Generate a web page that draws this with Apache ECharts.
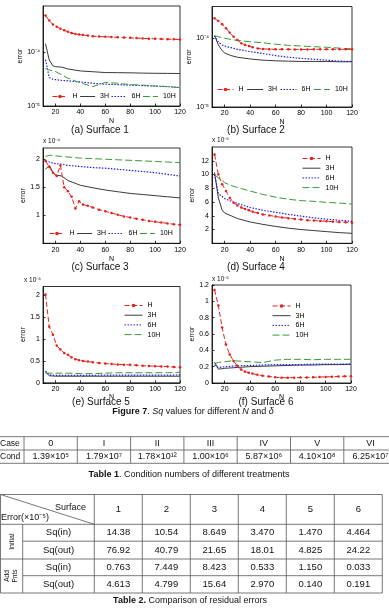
<!DOCTYPE html>
<html><head><meta charset="utf-8">
<script src="https://cdn.jsdelivr.net/npm/echarts@6/dist/echarts.min.js"></script>
<style>html,body{margin:0;padding:0;background:#fff}#c{width:389px;height:612px}</style>
</head><body><div id="c"></div>
<script>
// ---------- data ----------
const N_H = [12,15,18,21,24,27,30,33,36,39,42,46,50,55,60,65,70,75,80,85,90,95,100,105,110,115,120];
const N_S = [12,15,18,20,25,30,40,50,60,70,80,90,100,110,120];
const N_TICKS = [20,40,60,80,100,120];
const NAMES = ['H','3H','6H','10H'];

// Surface 1 (absolute values, log axis)
const s1_H   = [4.84e-4,3.9e-4,3.3e-4,3.0e-4,2.75e-4,2.57e-4,2.42e-4,2.28e-4,2.2e-4,2.15e-4,2.1e-4,2.05e-4,2.0e-4,1.97e-4,1.95e-4,1.93e-4,1.9e-4,1.88e-4,1.86e-4,1.84e-4,1.82e-4,1.8e-4,1.79e-4,1.77e-4,1.76e-4,1.75e-4,1.73e-4];
const s1_3H  = [1.45e-4,7.2e-5,5.6e-5,5.4e-5,5.3e-5,4.9e-5,4.5e-5,4.35e-5,4.2e-5,4.18e-5,4.15e-5,4.1e-5,4.07e-5,4.05e-5,4.03e-5];
const s1_6H  = [7.3e-5,3.4e-5,3.15e-5,3.1e-5,3.0e-5,2.95e-5,2.8e-5,2.65e-5,2.55e-5,2.5e-5,2.45e-5,2.4e-5,2.35e-5,2.3e-5,2.2e-5];
const s1_10H = [5.0e-5,4.7e-5,4.5e-5,4.4e-5,3.8e-5,3.3e-5,2.7e-5,2.3e-5,2.75e-5,2.65e-5,2.5e-5,2.45e-5,2.35e-5,2.3e-5,2.2e-5];
// Surface 2 (absolute values, log axis)
const s2_H   = [1.95e-4,1.78e-4,1.6e-4,1.4e-4,1.2e-4,1.05e-4,9.4e-5,8.5e-5,8.0e-5,7.7e-5,7.4e-5,7.1e-5,7.0e-5,6.95e-5,6.9e-5,6.9e-5,6.9e-5,6.88e-5,6.88e-5,6.88e-5,6.9e-5,6.9e-5,6.9e-5,6.9e-5,6.92e-5,6.9e-5,6.9e-5];
const s2_3H  = [1.09e-4,8.0e-5,6.6e-5,6.1e-5,5.6e-5,5.3e-5,5.0e-5,4.8e-5,4.7e-5,4.65e-5,4.6e-5,4.6e-5,4.6e-5,4.55e-5,4.55e-5];
const s2_6H  = [1.09e-4,8.8e-5,8.0e-5,7.7e-5,7.3e-5,6.9e-5,6.4e-5,6.0e-5,5.6e-5,5.3e-5,5.1e-5,4.95e-5,4.8e-5,4.65e-5,4.6e-5];
const s2_10H = [1.09e-4,1.05e-4,1.02e-4,1.0e-4,9.6e-5,9.3e-5,8.9e-5,8.6e-5,8.2e-5,7.9e-5,7.7e-5,7.55e-5,7.4e-5,7.2e-5,7.0e-5];
// Surface 3 (x 10^-4)
const s3_H   = [1.97,1.86,1.76,1.70,1.89,1.50,1.43,1.33,1.12,1.25,1.19,1.17,1.14,1.10,1.07,1.04,1.01,0.98,0.96,0.94,0.92,0.90,0.885,0.87,0.855,0.84,0.83];
const s3_3H  = [1.82,1.89,1.77,1.72,1.70,1.62,1.535,1.49,1.45,1.42,1.39,1.37,1.35,1.33,1.31];
const s3_6H  = [1.97,1.95,1.93,1.92,1.91,1.89,1.87,1.85,1.84,1.82,1.80,1.78,1.76,1.73,1.70];
const s3_10H = [2.05,2.07,2.07,2.06,2.05,2.04,2.02,2.01,2.0,1.99,1.98,1.97,1.96,1.95,1.94];
// Surface 4 (x 10^-5)
const s4_H   = [12.9,10.0,8.6,7.6,6.6,5.9,5.5,5.2,5.0,4.8,4.6,4.4,4.2,4.05,3.9,3.75,3.65,3.55,3.45,3.35,3.3,3.25,3.2,3.15,3.1,3.05,3.0];
const s4_3H  = [10.3,6.6,4.8,4.4,4.0,3.6,3.1,2.75,2.45,2.2,2.0,1.85,1.7,1.55,1.45];
const s4_6H  = [10.0,7.2,6.8,6.5,6.1,5.8,5.2,4.8,4.5,4.2,3.95,3.7,3.5,3.35,3.2];
const s4_10H = [10.0,9.5,9.1,8.8,8.4,8.1,7.6,7.1,6.7,6.4,6.2,6.1,5.95,5.85,5.7];
// Surface 5 (x 10^-5)
const s5_H   = [2.02,1.28,1.10,0.85,0.76,0.68,0.64,0.58,0.54,0.515,0.50,0.485,0.47,0.45,0.44,0.43,0.42,0.415,0.41,0.40,0.39,0.385,0.38,0.375,0.37,0.36,0.355];
const s5_3H  = [0.25,0.16,0.155,0.15,0.15,0.15,0.15,0.15,0.15,0.15,0.15,0.15,0.15,0.15,0.15];
const s5_6H  = [0.27,0.18,0.175,0.17,0.17,0.17,0.17,0.17,0.175,0.175,0.175,0.175,0.175,0.175,0.18];
const s5_10H = [0.22,0.22,0.22,0.22,0.22,0.22,0.21,0.21,0.22,0.23,0.23,0.23,0.23,0.23,0.24];
// Surface 6 (x 10^-5)
const s6_H   = [1.14,0.95,0.68,0.47,0.35,0.27,0.21,0.165,0.14,0.125,0.115,0.10,0.09,0.08,0.07,0.065,0.065,0.065,0.067,0.068,0.07,0.072,0.075,0.077,0.08,0.082,0.083];
const s6_3H  = [0.255,0.17,0.175,0.18,0.185,0.19,0.20,0.205,0.21,0.215,0.22,0.22,0.225,0.225,0.23];
const s6_6H  = [0.22,0.19,0.195,0.20,0.205,0.21,0.215,0.22,0.225,0.225,0.225,0.23,0.23,0.23,0.23];
const s6_10H = [0.24,0.25,0.26,0.26,0.27,0.27,0.26,0.25,0.28,0.29,0.29,0.285,0.29,0.29,0.29];

const SUBTITLES = ['(a) Surface 1','(b) Surface 2','(c) Surface 3','(d) Surface 4','(e) Surface 5','(f) Surface 6'];
const EXPONENTS = [null, null, -4, -5, -5, -5];

// Table 1
const t1Cases = ['0','I','II','III','IV','V','VI'];
const t1Mant  = ['1.39','1.79','1.78','1.00','5.87','4.10','6.25'];
const t1Exp   = [5,7,12,6,6,8,7];
// Table 2
const t2Surfaces = ['1','2','3','4','5','6'];
const t2RowLabels = ['Sq(in)','Sq(out)','Sq(in)','Sq(out)'];
const t2Groups = ['Initial','Add\nPnts'];
const t2InitIn  = ['14.38','10.54','8.649','3.470','1.470','4.464'];
const t2InitOut = ['76.92','40.79','21.65','18.01','4.825','24.22'];
const t2AddIn   = ['0.763','7.449','8.423','0.533','1.150','0.033'];
const t2AddOut  = ['4.613','4.799','15.64','2.970','0.140','0.191'];

// ---------- helpers ----------
const SUP = {'-':'\u207B','0':'\u2070','1':'\u00B9','2':'\u00B2','3':'\u00B3','4':'\u2074','5':'\u2075','6':'\u2076','7':'\u2077','8':'\u2078','9':'\u2079'};
const sup = v => String(v).split('').map(c => SUP[c] || c).join('');
const FF = '"Liberation Sans", Arial, sans-serif';

const SERIES_DATA = [
  [s1_H, s1_3H, s1_6H, s1_10H],
  [s2_H, s2_3H, s2_6H, s2_10H],
  [s3_H, s3_3H, s3_6H, s3_10H],
  [s4_H, s4_3H, s4_6H, s4_10H],
  [s5_H, s5_3H, s5_6H, s5_10H],
  [s6_H, s6_3H, s6_6H, s6_10H]
];

// ---------- layout ----------
const GRIDS = [
  {left:43,  top:6,     width:137, height:100},
  {left:212, top:6.5,   width:140, height:100.5},
  {left:43,  top:148,   width:137, height:95.3},
  {left:212, top:147,   width:140, height:96.3},
  {left:43,  top:286.5, width:137, height:96.3},
  {left:212, top:285,   width:139, height:98}
];
const YAX = [
  {type:'log', min:1e-5, max:7.3e-4},
  {type:'log', min:1e-5, max:2.9e-4},
  {type:'value', min:0.5, max:2.2, interval:0.5, hideMin:true},
  {type:'value', min:0, max:14, interval:2, hideMin:true},
  {type:'value', min:0, max:2.2, interval:0.5},
  {type:'value', min:0, max:1.2, interval:0.2}
];
const X_NAME_GAP = [12, 12, 12, 12, 9, 9];
const LEGENDS = [
  {orient:'horizontal', left:52, top:93, w:15, gap:2},
  {orient:'horizontal', left:217, top:86, w:16, gap:3},
  {orient:'horizontal', left:49, top:230, w:15, gap:2},
  {orient:'vertical', left:302, top:155, w:18, gap:2.7},
  {orient:'vertical', left:124, top:302, w:18, gap:2.7},
  {orient:'vertical', left:272, top:302.5, w:18, gap:2.7}
];
const SUB_POS = [[100,130],[256,130],[100,267],[256,267],[101,402],[266,402]];
const EXP_POS = [null,null,[43,141],[212,140],[24,280],[212,279]];

const STYLES = {
  'H':   {color:'#e8201c', lineStyle:{width:1, type:[5,2.5]}, symbol:'circle', symbolSize:2.5, showSymbol:true},
  '3H':  {color:'#3a3a3a', lineStyle:{width:1}, symbol:'none'},
  '6H':  {color:'#2020e0', lineStyle:{width:1.2, type:[1.5,1.5]}, symbol:'none'},
  '10H': {color:'#3a9a3a', lineStyle:{width:1, type:[7,3]}, symbol:'none'}
};

const grid = [], xAxis = [], yAxis = [], series = [], legend = [], graphic = [];

function txt(x, y, text, font, align, extra) {
  return {type:'text', x:x, y:y, silent:true, z:10, style:Object.assign({
    text:text, font:font, fill:'#111', align:align, textAlign:align,
    verticalAlign:'middle', textVerticalAlign:'middle'}, extra || {})};
}
function ln(x1, y1, x2, y2) {
  return {type:'line', silent:true, z:10, shape:{x1:x1, y1:y1, x2:x2, y2:y2}, style:{stroke:'#555', lineWidth:0.8}};
}

GRIDS.forEach((g, i) => {
  grid.push(Object.assign({show:true, borderColor:'#000', borderWidth:0.8, containLabel:false}, g));
  xAxis.push({
    type:'value', gridIndex:i, min:10, max:120,
    name:'N', nameLocation:'middle', nameGap:X_NAME_GAP[i],
    nameTextStyle:{fontSize:7, fontFamily:FF, color:'#000'},
    axisLine:{show:true, onZero:false, lineStyle:{color:'#000', width:0.8}},
    axisTick:{show:true, inside:true, length:2.5, customValues:N_TICKS, lineStyle:{color:'#000', width:0.8}},
    axisLabel:{customValues:N_TICKS, fontSize:7, fontFamily:FF, color:'#000', margin:3},
    splitLine:{show:false}
  });
  const y = YAX[i];
  const ya = {
    type:y.type, gridIndex:i, min:y.min, max:y.max,
    name:'error', nameLocation:'middle', nameGap:16, nameRotate:90,
    nameTextStyle:{fontSize:7, fontFamily:FF, color:'#000'},
    axisLine:{show:true, onZero:false, lineStyle:{color:'#000', width:0.8}},
    axisTick:{show:true, inside:true, length:2.5, lineStyle:{color:'#000', width:0.8}},
    axisLabel:{fontSize:7, fontFamily:FF, color:'#000', margin:3, showMaxLabel:false, showMinLabel: !y.hideMin},
    splitLine:{show:false}
  };
  if (y.type === 'log') {
    ya.logBase = 10;
    ya.axisLabel.formatter = v => '10' + sup(Math.round(Math.log10(v)));
  } else {
    ya.interval = y.interval;
    if (i === 5) ya.axisLabel.showMaxLabel = true;
  }
  yAxis.push(ya);

  NAMES.forEach((nm, k) => {
    const xs = k === 0 ? N_H : N_S;
    const vals = SERIES_DATA[i][k];
    const st = STYLES[nm];
    series.push({
      type:'line', name:nm, xAxisIndex:i, yAxisIndex:i,
      data: xs.map((x, j) => [x, vals[j]]),
      itemStyle:{color:st.color},
      lineStyle:Object.assign({color:st.color}, st.lineStyle),
      symbol:st.symbol, symbolSize:st.symbolSize || 0, showSymbol:!!st.showSymbol,
      animation:false, silent:true, z:k===0?5:3
    });
  });

  const L = LEGENDS[i];
  legend.push({
    data:NAMES.map(n => n === 'H' ? {name:n} : {name:n, itemStyle:{opacity:0}}),
    orient:L.orient, left:L.left, top:L.top,
    itemWidth:L.w, itemHeight:4.5, itemGap:L.gap,
    padding:0, selectedMode:false,
    lineStyle:{width:1},
    textStyle:{fontSize:7, fontFamily:FF, color:'#000'}
  });

  const sp = SUB_POS[i];
  graphic.push(txt(sp[0], sp[1], SUBTITLES[i], '10px ' + FF, 'center'));
  if (EXPONENTS[i] !== null) {
    const ep = EXP_POS[i];
    graphic.push(txt(ep[0], ep[1], 'x 10' + sup(EXPONENTS[i]), '6.5px ' + FF, 'left'));
  }
});

// Figure caption
graphic.push(txt(193, 411.5, '{b|Figure 7}. {i|Sq} values for different {i|N} and {i|δ}', '9px ' + FF, 'center', {
  rich:{b:{font:'bold 9px ' + FF, fill:'#111'}, i:{font:'italic 9px ' + FF, fill:'#111'}}
}));

// Table 1
const T1 = {yTop:436.7, yMid:450, yBot:463.3, firstCol:24, colW:53.3};
[T1.yTop, T1.yMid, T1.yBot].forEach(y => graphic.push(ln(0, y, 389, y)));
for (let k = 0; k <= 7; k++) {
  const x = T1.firstCol + k * T1.colW;
  graphic.push(ln(x, T1.yTop, x, T1.yBot));
}
const r1 = (T1.yTop + T1.yMid) / 2, r2 = (T1.yMid + T1.yBot) / 2;
graphic.push(txt(0, r1, 'Case', '8.5px ' + FF, 'left'));
graphic.push(txt(0, r2, 'Cond', '8.5px ' + FF, 'left'));
t1Cases.forEach((c, k) => {
  const cx = T1.firstCol + (k + 0.5) * T1.colW;
  graphic.push(txt(cx, r1, c, '9px ' + FF, 'center'));
  graphic.push(txt(cx, r2, t1Mant[k] + '×10' + sup(t1Exp[k]), '9px ' + FF, 'center'));
});
graphic.push(txt(189, 475, '{b|Table 1}. Condition numbers of different treatments', '9px ' + FF, 'center', {
  rich:{b:{font:'bold 9px ' + FF, fill:'#111'}}
}));

// Table 2
const T2 = {yTop:494.5, rows:[524.3,541.2,559,575.7,593], xG:22.7, xL:94.3, colW:48, x0:0.5};
const xRight = T2.xL + 6 * T2.colW;
graphic.push(ln(T2.x0, T2.yTop, xRight, T2.yTop));
graphic.push(ln(T2.x0, T2.rows[0], xRight, T2.rows[0]));
graphic.push(ln(T2.xG, T2.rows[1], xRight, T2.rows[1]));
graphic.push(ln(T2.x0, T2.rows[2], xRight, T2.rows[2]));
graphic.push(ln(T2.xG, T2.rows[3], xRight, T2.rows[3]));
graphic.push(ln(T2.x0, T2.rows[4], xRight, T2.rows[4]));
graphic.push(ln(T2.x0, T2.yTop, T2.x0, T2.rows[4]));
graphic.push(ln(T2.xG, T2.rows[0], T2.xG, T2.rows[4]));
for (let k = 0; k <= 6; k++) {
  const x = T2.xL + k * T2.colW;
  graphic.push(ln(x, T2.yTop, x, T2.rows[4]));
}
graphic.push(ln(T2.x0, T2.yTop, T2.xL, T2.rows[0]));
graphic.push(txt(86, 507.3, 'Surface', '9px ' + FF, 'right'));
graphic.push(txt(1, 517.7, 'Error(×10' + sup(-5) + ')', '9px ' + FF, 'left'));
const hc = (T2.yTop + T2.rows[0]) / 2;
t2Surfaces.forEach((s, k) => graphic.push(txt(T2.xL + (k + 0.5) * T2.colW, hc, s, '9.5px ' + FF, 'center')));
const t2Vals = [t2InitIn, t2InitOut, t2AddIn, t2AddOut];
t2RowLabels.forEach((lab, r) => {
  const cy = (T2.rows[r] + T2.rows[r + 1]) / 2;
  graphic.push(txt((T2.xG + T2.xL) / 2, cy, lab, '9.5px ' + FF, 'center'));
  t2Vals[r].forEach((v, k) => graphic.push(txt(T2.xL + (k + 0.5) * T2.colW, cy, v, '9.5px ' + FF, 'center')));
});
graphic.push({type:'text', x:(T2.x0 + T2.xG) / 2, y:(T2.rows[0] + T2.rows[2]) / 2, rotation:Math.PI / 2, silent:true, z:10,
  style:{text:t2Groups[0], font:'7px ' + FF, fill:'#111', align:'center', textAlign:'center', verticalAlign:'middle', textVerticalAlign:'middle'}});
graphic.push({type:'text', x:(T2.x0 + T2.xG) / 2, y:(T2.rows[2] + T2.rows[4]) / 2, rotation:Math.PI / 2, silent:true, z:10,
  style:{text:t2Groups[1], font:'6.5px ' + FF, lineHeight:8, fill:'#111', align:'center', textAlign:'center', verticalAlign:'middle', textVerticalAlign:'middle'}});
graphic.push(txt(190, 600.5, '{b|Table 2.} Comparison of residual errors', '9px ' + FF, 'center', {
  rich:{b:{font:'bold 9px ' + FF, fill:'#111'}}
}));

const chart = echarts.init(document.getElementById('c'), null, {renderer:'canvas'});
chart.setOption({
  animation:false,
  backgroundColor:'#fff',
  grid, xAxis, yAxis, series, legend, graphic
});
</script></body></html>
